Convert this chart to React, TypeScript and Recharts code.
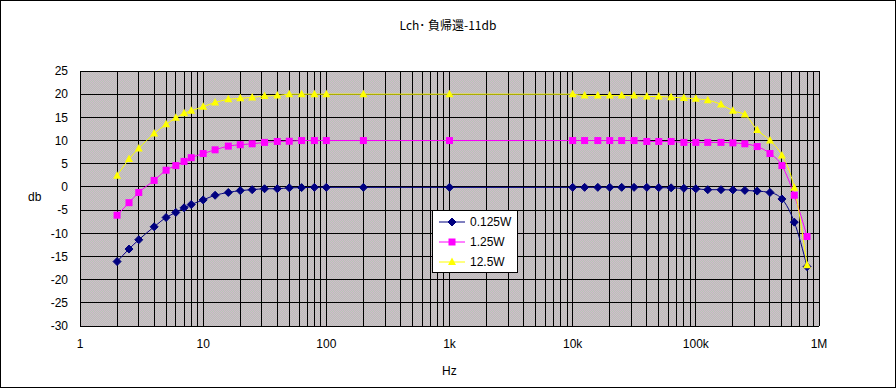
import React from 'react';
import { CartesianGrid, Line, LineChart, XAxis, YAxis } from 'recharts';

// frequency points (Hz)
const freqs = [
  2, 2.5, 3, 4, 5, 6, 7, 8, 10, 12.5, 16, 20, 25, 31.5, 40, 50, 63, 80, 100, 200,
  1000,
  10000, 12500, 16000, 20000, 25000, 31500, 40000, 50000, 63000, 80000, 100000,
  125000, 160000, 200000, 250000, 315000, 400000, 500000, 630000, 800000,
];

const w0125 = [
  -16.1, -13.4, -11.4, -8.6, -6.6, -5.5, -4.5, -3.8, -2.8, -1.8, -1.2, -0.8, -0.6, -0.4, -0.4, -0.2, -0.15, -0.1, -0.1, -0.1,
  -0.1,
  -0.1, -0.1, -0.1, -0.1, -0.1, -0.1, -0.1, -0.15, -0.2, -0.3, -0.4,
  -0.6, -0.6, -0.65, -0.75, -0.9, -1.2, -2.6, -7.6, -17.2,
];

const w125 = [
  -6.1, -3.4, -1.2, 1.4, 3.6, 4.6, 5.5, 6.3, 7.2, 8.0, 8.8, 9.1, 9.3, 9.6, 9.8, 9.85, 10, 10, 10, 10,
  10,
  10, 10, 10, 10, 10, 10, 9.8, 9.8, 9.8, 9.6, 9.6,
  9.6, 9.6, 9.5, 9.3, 8.7, 7.2, 4.6, -1.8, -10.7,
];

const w12_5 = [
  2.4, 6.0, 8.3, 11.5, 13.5, 14.9, 15.9, 16.4, 17.3, 18.2, 18.9, 19.1, 19.3, 19.6, 19.7, 20, 20, 20, 20, 20,
  20,
  20, 19.7, 19.7, 19.7, 19.7, 19.7, 19.5, 19.5, 19.35, 19.2, 19.0,
  18.7, 17.8, 16.4, 15.6, 12.3, 10.0, 6.8, -0.2, -16.9,
];

const decades = [1, 10, 100, 1000, 10000, 100000, 1000000];
const decadeLabels = ['1', '10', '100', '1k', '10k', '100k', '1M'];
const steps = [1, 2, 3, 4, 5, 6, 7, 8, 9];
const yTicks = [-30, -25, -20, -15, -10, -5, 0, 5, 10, 15, 20, 25];

const xTicks = decades.flatMap((d, i) =>
  i === decades.length - 1 ? [d] : steps.map((s) => s * d)
);

const data = freqs.map((f, i) => ({
  f,
  a: w0125[i],
  b: w125[i],
  c: w12_5[i],
}));

const FONT = '"Liberation Sans", Arial, sans-serif';

const Diamond = (props: any) => {
  const { cx, cy, index } = props;
  if (cx == null || cy == null) return <g key={`a${index}`} />;
  return (
    <path
      key={`a${index}`}
      d={`M${cx},${cy - 4}L${cx + 4},${cy}L${cx},${cy + 4}L${cx - 4},${cy}Z`}
      fill="#000080"
      stroke="#000080"
    />
  );
};

const Square = (props: any) => {
  const { cx, cy, index } = props;
  if (cx == null || cy == null) return <g key={`b${index}`} />;
  return <rect key={`b${index}`} x={cx - 3.5} y={cy - 3.5} width={7} height={7} fill="#ff00ff" />;
};

const Triangle = (props: any) => {
  const { cx, cy, index } = props;
  if (cx == null || cy == null) return <g key={`c${index}`} />;
  return (
    <path
      key={`c${index}`}
      d={`M${cx},${cy - 4.5}L${cx + 4},${cy + 3}L${cx - 4},${cy + 3}Z`}
      fill="#ffff00"
    />
  );
};

const legendItems = [
  { name: '0.125W', color: '#000080', Mark: Diamond },
  { name: '1.25W', color: '#ff00ff', Mark: Square },
  { name: '12.5W', color: '#ffff00', Mark: Triangle },
];

const LegendBox = () => (
  <div
    style={{
      position: 'absolute',
      left: 431,
      top: 209,
      width: 86,
      height: 63,
      boxSizing: 'border-box',
      background: '#fff',
      border: '1px solid #000',
      padding: '1px 0 0 6px',
      fontFamily: FONT,
      fontSize: 12,
    }}
  >
    {legendItems.map(({ name, color, Mark }) => (
      <div key={name} style={{ display: 'flex', alignItems: 'center', height: 20 }}>
        <svg width={26} height={12}>
          <line x1={0} y1={6} x2={26} y2={6} stroke={color} strokeWidth={1} />
          <Mark cx={13} cy={6} index={0} />
        </svg>
        <span style={{ marginLeft: 5 }}>{name}</span>
      </div>
    ))}
  </div>
);

export default function App() {
  return (
    <div
      style={{
        position: 'absolute',
        left: 0,
        top: 0,
        width: 896,
        height: 388,
        boxSizing: 'border-box',
        border: '1px solid #000',
        background: '#fff',
        fontFamily: FONT,
      }}
    >
      <svg width={0} height={0} style={{ position: 'absolute' }}>
        <defs>
          <pattern id="dither" width={2} height={2} patternUnits="userSpaceOnUse">
            <rect x={0} y={0} width={2} height={2} fill="#b6c6b6" shapeRendering="crispEdges" />
            <rect x={0} y={0} width={1} height={1} fill="#d2b8cc" shapeRendering="crispEdges" />
            <rect x={1} y={1} width={1} height={1} fill="#d2b8cc" shapeRendering="crispEdges" />
          </pattern>
        </defs>
      </svg>
      <div
        style={{
          position: 'absolute',
          left: 0,
          top: 17,
          width: 894,
          textAlign: 'center',
          fontFamily: '"Noto Sans CJK JP", sans-serif',
          fontSize: 12,
          lineHeight: '14px',
        }}
      >
        Lch･ 負帰還-11db
      </div>
      <div style={{ position: 'absolute', left: 27, top: 189, fontSize: 12 }}>db</div>
      <div style={{ position: 'absolute', left: 441, top: 363, fontSize: 12 }}>Hz</div>
      <LineChart
        width={894}
        height={386}
        data={data}
        margin={{ top: 70, right: 76, left: 19, bottom: 21 }}
      >
        <CartesianGrid
          stroke="#000"
          strokeWidth={1}
          fill="url(#dither)"
          fillOpacity={1}
          shapeRendering="crispEdges"
        />
        <XAxis
          dataKey="f"
          type="number"
          scale="log"
          domain={[1, 1000000]}
          ticks={xTicks}
          allowDataOverflow
          interval={0}
          height={40}
          tickLine={false}
          axisLine={false}
          tickSize={0}
          tickMargin={13}
          tick={{ fill: '#000', fontSize: 12, fontFamily: FONT }}
          tickFormatter={(v: number) => {
            const i = decades.indexOf(v);
            return i >= 0 ? decadeLabels[i] : '';
          }}
        />
        <YAxis
          type="number"
          domain={[-30, 25]}
          ticks={yTicks}
          interval={0}
          width={60}
          tickLine={false}
          axisLine={false}
          tickSize={0}
          tickMargin={12}
          tick={{ fill: '#000', fontSize: 12, fontFamily: FONT }}
        />
        <Line
          type="monotone"
          dataKey="a"
          name="0.125W"
          stroke="#000080"
          strokeWidth={1}
          dot={Diamond}
          isAnimationActive={false}
        />
        <Line
          type="monotone"
          dataKey="b"
          name="1.25W"
          stroke="#ff00ff"
          strokeWidth={1}
          dot={Square}
          isAnimationActive={false}
        />
        <Line
          type="monotone"
          dataKey="c"
          name="12.5W"
          stroke="#ffff00"
          strokeWidth={1}
          dot={Triangle}
          isAnimationActive={false}
        />
      </LineChart>
      <LegendBox />
    </div>
  );
}
